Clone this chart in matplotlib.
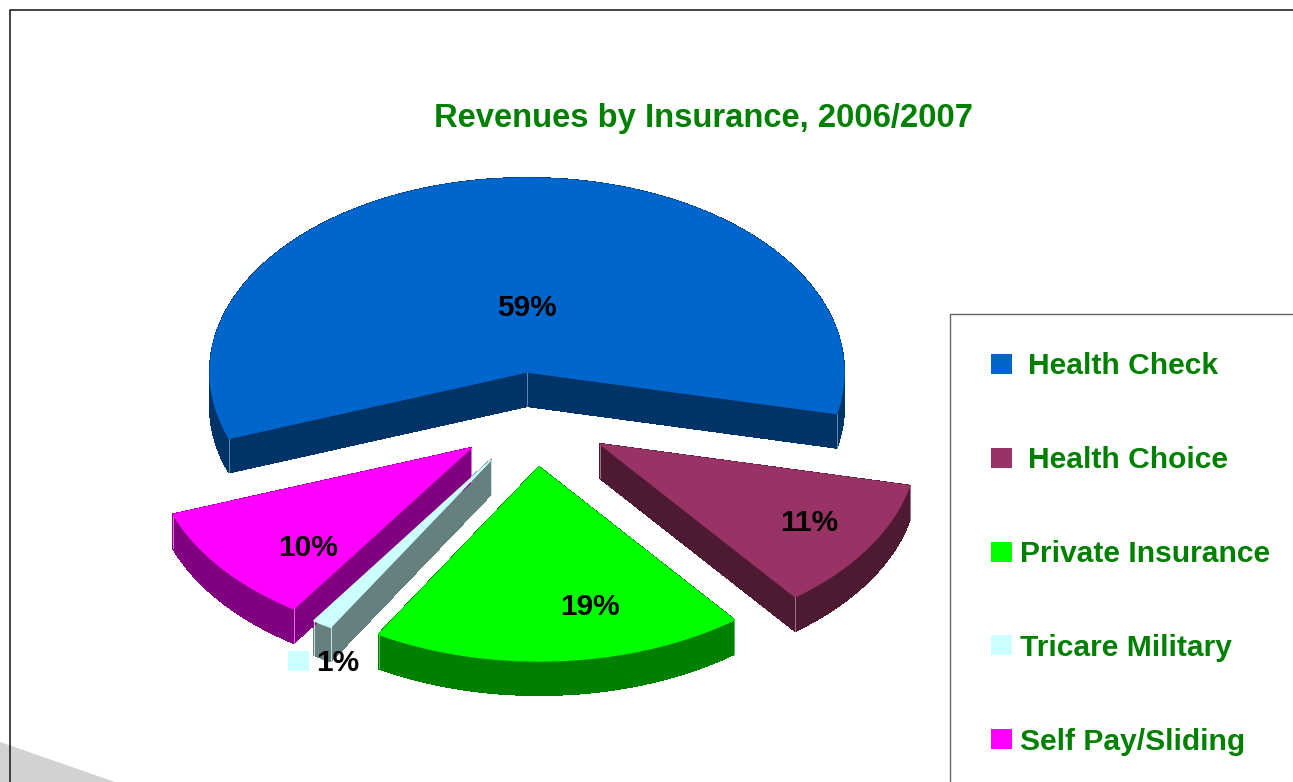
import numpy as np
import matplotlib
matplotlib.use('Agg')
import matplotlib.pyplot as plt
from matplotlib import font_manager
from matplotlib.patches import Polygon, Rectangle

plt.rcParams['font.family'] = ['Liberation Sans', 'DejaVu Sans']

# Datos
categorias = ['Health Check', 'Health Choice', 'Private Insurance', 'Tricare Military', 'Self Pay/Sliding']
valores = [59, 11, 19, 1, 10]
etiquetas = ['59%', '11%', '19%', '1%', '10%']
titulo = 'Revenues by Insurance, 2006/2007'

# Estilo
colores = ['#0066CC', '#993366', '#00FF00', '#CCFFFF', '#FF00FF']
oscuros = ['#003366', '#4D1933', '#008000', '#668080', '#800080']
claros = ['#6699CC', '#B380A0', '#66CC66', '#E0F0F0', '#FF80FF']
verde = '#008000'

# Layout (pixeles)
apices = [(527, 372), (600, 444), (539, 467), (491, 460), (471, 448)]
pos_etiq = [(527, 308), (809, 523), (590, 607), (338, 663), (308, 548)]
leg_y = [366, 460, 554, 648, 742]
cuad_y = [364, 458, 552, 645, 739]
leg_x = [1028, 1028, 1020, 1020, 1020]
RX, RY, PROF = 317, 194, 34
INICIO = 200.0  # grados, sentido horario

fig = plt.figure(figsize=(12.93, 7.82), dpi=100, facecolor='white')
ax = fig.add_axes([0, 0, 1, 1])
ax.set_xlim(0, 1293)
ax.set_ylim(782, 0)
ax.axis('off')

# Fondo: cuña gris y marcos
ax.add_patch(Polygon([(0, 742), (115, 782), (0, 782)], closed=True, fc='#D2D2D2', ec='none', zorder=1))
ax.plot([10, 10, 1293], [782, 10, 10], color='#222222', lw=1.2, zorder=2)
ax.plot([950, 950, 1293], [782, 314, 314], color='#666666', lw=1.0, zorder=2)

# Titulo: fuente estrecha si existe
nombres = {f.name for f in font_manager.fontManager.ttflist}
if 'Liberation Sans Narrow' in nombres:
    ax.text(703, 118, titulo, color=verde, fontsize=29, fontweight='bold',
            family='Liberation Sans Narrow', ha='center', va='center', zorder=5)
else:
    ax.text(703, 118, titulo, color=verde, fontsize=23.6, fontweight='bold',
            ha='center', va='center', zorder=5)

# Porciones
angulo = INICIO
for i, v in enumerate(valores):
    fin = angulo - v / sum(valores) * 360
    th = np.radians(np.linspace(angulo, fin, 200))
    cx, cy = apices[i]
    xs = cx + RX * np.cos(th)
    ys = cy - RY * np.sin(th)
    px = np.r_[cx, xs, cx]
    py = np.r_[cy, ys, cy]

    # Pared: barrido del contorno hacia abajo
    for k in range(len(px) - 1):
        quad = [(px[k], py[k]), (px[k + 1], py[k + 1]),
                (px[k + 1], py[k + 1] + PROF), (px[k], py[k] + PROF)]
        ax.add_patch(Polygon(quad, closed=True, fc=oscuros[i], ec=oscuros[i], lw=0.8,
                             antialiased=False, zorder=3))

    # Aristas claras de la pared
    for xe, ye in [(xs[0], ys[0]), (xs[-1], ys[-1]), (cx, cy)]:
        ax.plot([xe, xe], [ye, ye + PROF], color=claros[i], lw=0.6, zorder=3.5)

    # Cara superior (borde del mismo color para tapar el serrado de la pared)
    ax.add_patch(Polygon(np.c_[px, py], closed=True, fc=colores[i], ec=colores[i], lw=1.0, zorder=4))
    angulo = fin

# Etiquetas de datos
for e, (x, y) in zip(etiquetas, pos_etiq):
    ax.text(x, y, e, color='black', fontsize=21.5, fontweight='bold', ha='center', va='center', zorder=6)
ax.add_patch(Rectangle((288, 651), 21, 20, fc=colores[3], ec='none', zorder=6))

# Leyenda
for nombre, c, y, yc, x in zip(categorias, colores, leg_y, cuad_y, leg_x):
    ax.add_patch(Rectangle((991, yc - 10), 21, 20, fc=c, ec='none', zorder=5))
    ax.text(x, y, nombre, color=verde, fontsize=21.6, fontweight='bold', ha='left', va='center', zorder=5)

fig.savefig('out.png', dpi=100, facecolor='white')
